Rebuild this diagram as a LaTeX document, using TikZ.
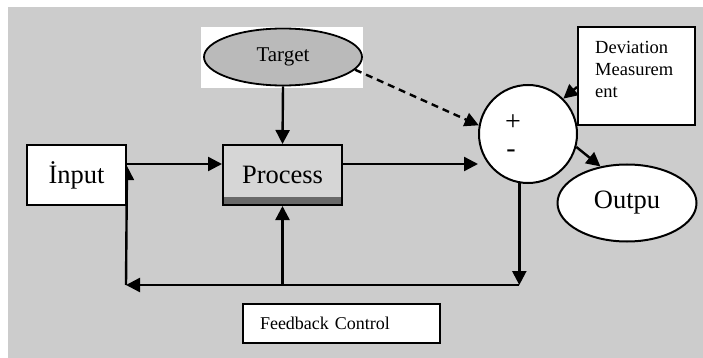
\documentclass[tikz,border=0pt]{standalone}
\usepackage{fontspec}
\setmainfont{Liberation Serif}
\usetikzlibrary{arrows.meta,shapes.geometric}
\pgfdeclarelayer{bg}\pgfdeclarelayer{edges}\pgfsetlayers{bg,edges,main}
\definecolor{bggray}{RGB}{204,204,204}
\definecolor{procgray}{RGB}{214,214,214}
\definecolor{targray}{RGB}{186,186,186}
\definecolor{shadegray}{RGB}{105,105,105}
\begin{document}
\begin{tikzpicture}[x=1pt,y=-1pt,
  arr/.style={line width=2.4pt,-{Triangle[length=14pt,width=14pt]}},
  dasharr/.style={arr,dash pattern=on 7pt off 5pt},
  box/.style={draw,line width=2pt,fill=white,inner sep=0pt},
  big/.style={font=\fontsize{26.5}{28}\selectfont},
  small/.style={font=\fontsize{18.5}{22}\selectfont}]
\useasboundingbox (0,0) rectangle (703,358);
\begin{pgfonlayer}{bg}
  \fill[bggray] (8,7) rectangle (703,358);
  \fill[white] (201,27) rectangle (363,88);
\end{pgfonlayer}
% nodes
\node[box,big,minimum width=99pt,minimum height=60pt] (input) at (76.5,175) {İnput};
\node[draw,line width=2pt,fill=procgray,inner sep=0pt,big,minimum width=119pt,minimum height=60pt,
  path picture={\fill[shadegray] ([yshift=8pt]path picture bounding box.south west) rectangle (path picture bounding box.south east);}]
  (process) at (282.5,175) {Process};
\node[ellipse,draw,line width=1.8pt,fill=targray,inner sep=0pt,minimum width=158pt,minimum height=57pt,
  font=\fontsize{21}{23}\selectfont] (target) at (283,57) {Target};
\node[circle,box,minimum size=98pt] (sum) at (528,134) {};
\node[font=\fontsize{28}{30}\selectfont,inner sep=0pt] (plus) at (513,123) {+};
\node[font=\fontsize{28}{30}\selectfont,inner sep=0pt] (minus) at (511,154) {-};
\node[box,minimum width=117pt,minimum height=98pt] (dev) at (636.5,76) {};
\node[small,anchor=north west,align=left,inner sep=0pt] (devtext) at (595,41) {Deviation\\Measurem\\ent};
\node[ellipse,box,big,minimum width=139pt,minimum height=77pt] (output) at (627,203) {Outpu};
\node[box,font=\fontsize{18}{20}\selectfont,inner xsep=17pt,text width=163pt,align=left,minimum height=39pt]
  (fb) at (341.5,323.5) {Feedback Control};
\coordinate (fbL) at (126,285);
% connectors
\begin{pgfonlayer}{edges}
  \draw[arr] (target.south) -- (process.north);
  \draw[arr] ([yshift=11pt]input.east) -- ([yshift=11pt]process.west);
  \draw[arr] ([yshift=11pt]process.east) -- ([yshift=-30pt]sum.west);
  \draw[dasharr] (target.-10) -- (sum.170);
  \draw[arr] ([yshift=-11pt]dev.west) -- (sum.45);
  \draw[arr] (sum.-15) -- (output.126);
  \draw[arr] (sum.-100) -- (sum.-100 |- fbL);
  \draw[arr] (sum.-100 |- fbL) -- (fbL);
  \draw[arr] (fbL) -- ([yshift=9pt]input.east);
  \draw[arr] (process.south |- fbL) -- (process.south);
\end{pgfonlayer}
\end{tikzpicture}
\end{document}
